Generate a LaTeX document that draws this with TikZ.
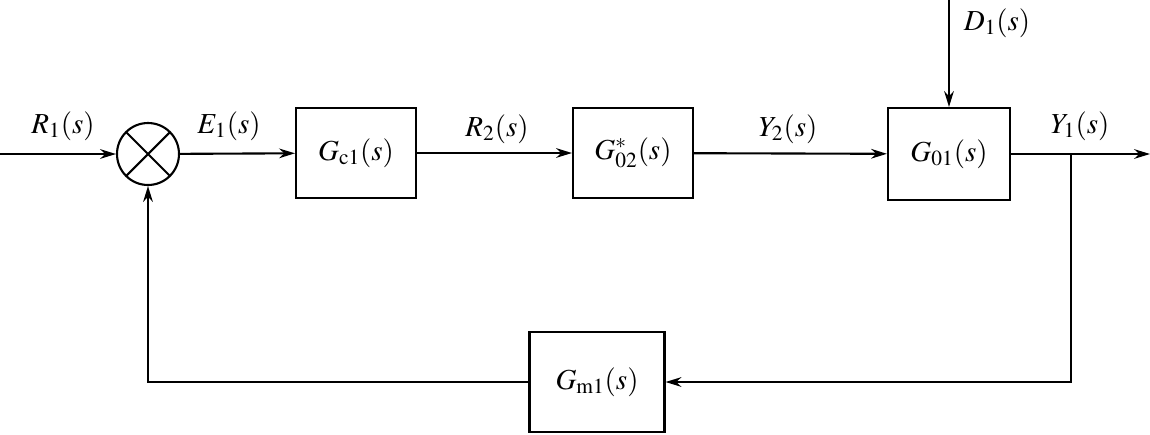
\documentclass[tikz,border=0pt]{standalone}
\usepackage{amsmath,amssymb}
\usepackage{mathptmx}
\usepackage{tikz}
\usetikzlibrary{positioning, calc, arrows.meta}

\tikzset{
    block/.style={draw, line width=1.2pt, minimum width=2.4cm, minimum height=1.8cm, inner sep=0pt},
    sumnode/.style={draw, circle, line width=1.2pt, minimum size=1.24cm, inner sep=0pt,
        path picture={\draw[line width=1.2pt] (path picture bounding box.north west) -- (path picture bounding box.south east)
                      (path picture bounding box.north east) -- (path picture bounding box.south west);}},
    sig/.style={-{Stealth[length=9pt, width=5.5pt]}, line width=1.2pt},
    lbl/.style={inner sep=0pt}
}

\begin{document}
\begin{tikzpicture}[x=0.02cm, y=-0.02cm, font=\fontsize{16.5}{19}\selectfont]
    \useasboundingbox (0,0) rectangle (1150,434);

    % Summing junction and forward path blocks
    \node[sumnode] (sum) at (148,154) {};
    \node[block] (gc) at (356,153) {$G_{\mathrm{c1}}(s)$};
    \node[block] (gp) at (633,153) {$G^{*}_{02}(s)$};
    \node[block, minimum width=2.44cm, minimum height=1.84cm] (go) at (949,154) {$G_{01}(s)$};

    % Measurement block in the feedback path
    \node[block, minimum width=2.7cm, minimum height=2.0cm] (gm) at (597,382) {$G_{\mathrm{m1}}(s)$};

    % Free ends and corners
    \coordinate (in) at (0,154);
    \coordinate (out) at (1150,154);
    \coordinate (br) at (1071,154);
    \coordinate (brdown) at (1071,382);
    \coordinate (fbcorner) at (148,382);
    \coordinate (dtop) at (949,0);

    % Forward signal lines
    \draw[sig] (in) -- (sum);
    \draw[sig] (sum) -- (gc);
    \draw[sig] (gc) -- (gp);
    \draw[sig] (gp) -- (go);
    \draw[sig] (go.east) -- (out);

    % Disturbance entering the process
    \draw[sig] (dtop) -- (go.north);

    % Feedback loop
    \draw[sig] (br) -- (brdown) -- (gm.east);
    \draw[sig] (gm.west) -- (fbcorner) -- (sum.south);

    % Signal labels
    \node[lbl] (r1) at (63,126) {$R_1(s)$};
    \node[lbl] (e1) at (229,126) {$E_1(s)$};
    \node[lbl] (r2) at (497,129) {$R_2(s)$};
    \node[lbl] (y2) at (788,129) {$Y_2(s)$};
    \node[lbl] (y1) at (1080,126) {$Y_1(s)$};
    \node[lbl] (d1) at (997,23) {$D_1(s)$};

\end{tikzpicture}
\end{document}
